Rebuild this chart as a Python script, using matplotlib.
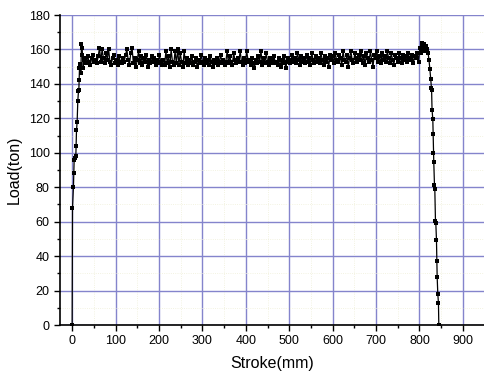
import numpy as np
import matplotlib.pyplot as plt
from matplotlib.ticker import MultipleLocator

plt.rcParams['font.family'] = ['Liberation Sans', 'DejaVu Sans']

# loading ramp at start of stroke
rise_stroke = [0, 0.8, 3, 3.8, 4.6, 6.2, 8.5, 9.2, 10, 11.5, 13, 14.6, 15.4, 16, 16.9,
               18.5, 20, 21.5, 23, 23.8, 25.4, 27]
rise_load = [0, 67.7, 80.3, 88.3, 95.8, 97, 98, 104, 113, 118, 130, 136, 136.3, 142, 149,
             151.5, 146.5, 163, 161, 157, 149, 154]

# plateau, one reading every 3 mm from 30 to 798
plateau_load = [
    155, 152, 156, 153, 151, 155, 157, 153, 154, 152,
    156, 161, 153, 160, 155, 152, 158, 154, 160, 153,
    151, 155, 157, 152, 154, 151, 156, 153, 152, 155,
    153, 157, 160, 154, 151, 158, 161, 152, 155, 150,
    154, 159, 152, 156, 151, 155, 153, 157, 150, 154,
    152, 156, 153, 155, 151, 154, 152, 157, 153, 151,
    154, 151, 159, 152, 156, 150, 160, 153, 151, 159,
    152, 160, 151, 158, 153, 150, 159, 152, 155, 151,
    154, 152, 156, 151, 153, 155, 150, 154, 152, 157,
    153, 151, 155, 152, 154, 151, 156, 153, 150, 154,
    152, 155, 151, 153, 157, 152, 154, 151, 153, 159,
    152, 156, 153, 151, 158, 154, 152, 155, 153, 159,
    153, 151, 155, 152, 159, 154, 153, 151, 155, 152,
    149, 154, 152, 156, 153, 159, 151, 155, 152, 158,
    153, 151, 155, 152, 154, 156, 152, 153, 151, 155,
    150, 154, 152, 156, 149, 153, 155, 152, 154, 157,
    153, 155, 152, 158, 154, 151, 156, 153, 155, 152,
    157, 153, 155, 151, 158, 154, 152, 156, 153, 155,
    152, 158, 154, 151, 156, 153, 155, 150, 157, 154,
    156, 152, 158, 154, 153, 157, 155, 151, 159, 154,
    153, 157, 150, 155, 159, 154, 152, 158, 155, 153,
    157, 154, 159, 152, 156, 151, 158, 155, 153, 159,
    154, 150, 157, 155, 159, 153, 156, 152, 158, 154,
    156, 153, 159, 155, 152, 158, 154, 151, 157, 155,
    153, 158, 155, 152, 157, 154, 156, 153, 158, 155,
    154, 157, 152, 156, 155, 158, 153,
]
plateau_stroke = np.arange(30, 799, 3)[:len(plateau_load)]

# peak and unloading at end of stroke
fall_stroke = [800.8, 803, 805, 807, 809, 811, 813, 815, 818, 820, 822, 824, 826, 827.7,
               828, 829, 830.8, 831.5, 832.3, 833, 834.6, 835.4, 836.9, 837.7, 839.2,
               840, 840.8, 842.3, 843.8, 844.6]
fall_load = [160.6, 158, 162, 163.5, 160, 163, 159, 162, 160, 157.7, 154, 148.6, 142.8,
             137.4, 136.4, 125, 119.4, 110.7, 100, 94.8, 81.3, 78.8, 60.4, 59.4, 49.4,
             37.2, 28, 18, 12.6, 0]

stroke = np.concatenate([rise_stroke, plateau_stroke, fall_stroke])
load = np.concatenate([rise_load, plateau_load, fall_load])

fig = plt.figure(figsize=(4.85, 3.76), dpi=100)
ax = fig.add_axes([0.1237, 0.1356, 0.8763, 0.8244])

ax.plot(stroke, load, '-', color='black', lw=0.9, marker='s', markersize=3.4,
        markeredgewidth=0, zorder=3)

ax.set_xlim(-28, 951)
ax.set_ylim(0, 180)
ax.xaxis.set_major_locator(MultipleLocator(100))
ax.xaxis.set_minor_locator(MultipleLocator(50))
ax.yaxis.set_major_locator(MultipleLocator(20))
ax.yaxis.set_minor_locator(MultipleLocator(10))

ax.grid(True, which='major', color='#8484cc', lw=1.0, zorder=1)
ax.grid(True, which='minor', color='#efefd8', lw=0.6, ls=':', zorder=1)

for s in ['top', 'right']:
    ax.spines[s].set_visible(False)
for s in ['left', 'bottom']:
    ax.spines[s].set_linewidth(1.2)

ax.tick_params(which='major', direction='out', length=4, width=1, labelsize=9)
ax.tick_params(which='minor', direction='out', length=2.5, width=1)

ax.set_xlabel('Stroke(mm)', fontsize=11.5, labelpad=6)
ax.set_ylabel('Load(ton)', fontsize=11.5, labelpad=5)

fig.savefig('out.png', dpi=100)
